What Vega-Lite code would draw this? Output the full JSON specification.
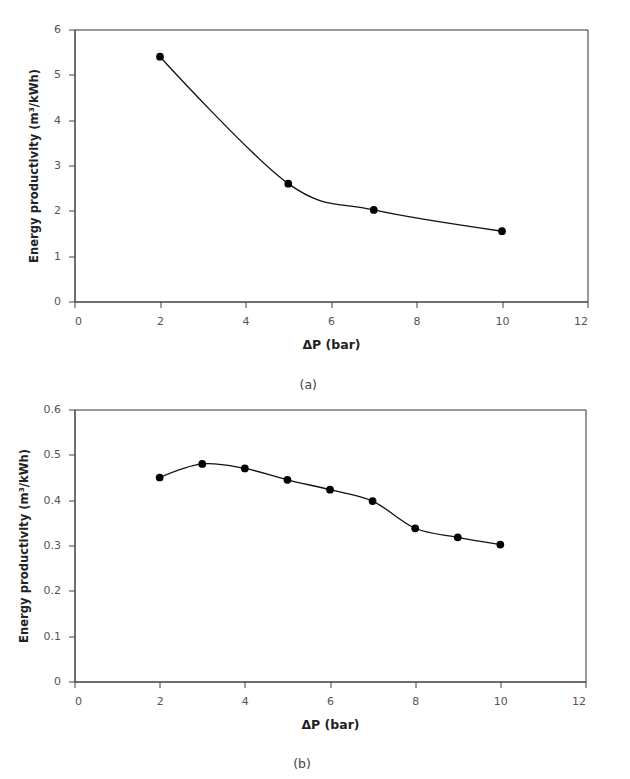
{
  "$schema": "https://vega.github.io/schema/vega-lite/v6.json",
  "background": "white",
  "padding": {"left": 17.5, "top": 22.5, "right": 10, "bottom": 5},
  "datasets": {
    "a": [
      {"dp": 2, "ep": 5.4},
      {"dp": 5, "ep": 2.6},
      {"dp": 7, "ep": 2.02},
      {"dp": 10, "ep": 1.55}
    ],
    "b": [
      {"dp": 2, "ep": 0.45},
      {"dp": 3, "ep": 0.48},
      {"dp": 4, "ep": 0.47},
      {"dp": 5, "ep": 0.445},
      {"dp": 6, "ep": 0.423},
      {"dp": 7, "ep": 0.398},
      {"dp": 8, "ep": 0.338},
      {"dp": 9, "ep": 0.318},
      {"dp": 10, "ep": 0.302}
    ]
  },
  "config": {
    "font": "DejaVu Sans",
    "view": {"stroke": "#333", "strokeWidth": 1},
    "axis": {
      "labelFont": "DejaVu Sans",
      "labelFontSize": 11,
      "labelColor": "#555",
      "titleFont": "DejaVu Sans",
      "titleFontWeight": "bold",
      "titleColor": "#222",
      "domainColor": "#444",
      "tickColor": "#444",
      "grid": false,
      "tickSize": 6
    },
    "axisX": {"labelPadding": 7.5, "titlePadding": 12, "titleFontSize": 12.5},
    "axisY": {"labelPadding": 8, "titlePadding": 14, "titleFontSize": 11.6, "minExtent": 0},
    "title": {"font": "DejaVu Sans", "fontSize": 12.5, "fontWeight": "normal", "color": "#444"}
  },
  "spacing": 11,
  "vconcat": [
    {
      "width": 513,
      "height": 272,
      "title": {"text": "(a)", "orient": "bottom", "anchor": "middle", "frame": "bounds", "offset": 28},
      "data": {"name": "a"},
      "encoding": {
        "x": {
          "field": "dp", "type": "quantitative",
          "scale": {"domain": [0, 12], "nice": false},
          "axis": {"values": [0, 2, 4, 6, 8, 10, 12], "title": "ΔP (bar)"}
        },
        "y": {
          "field": "ep", "type": "quantitative",
          "scale": {"domain": [0, 6], "nice": false},
          "axis": {"values": [0, 1, 2, 3, 4, 5, 6], "title": "Energy productivity (m³/kWh)"}
        }
      },
      "layer": [
        {"mark": {"type": "line", "interpolate": "cardinal", "color": "#111", "strokeWidth": 1.3}},
        {"mark": {"type": "point", "filled": true, "size": 60, "color": "#000", "opacity": 1}}
      ]
    },
    {
      "width": 511,
      "height": 272,
      "title": {"text": "(b)", "orient": "bottom", "anchor": "middle", "frame": "bounds", "offset": 27},
      "data": {"name": "b"},
      "encoding": {
        "x": {
          "field": "dp", "type": "quantitative",
          "scale": {"domain": [0, 12], "nice": false},
          "axis": {"values": [0, 2, 4, 6, 8, 10, 12], "title": "ΔP (bar)"}
        },
        "y": {
          "field": "ep", "type": "quantitative",
          "scale": {"domain": [0, 0.6], "nice": false},
          "axis": {"values": [0, 0.1, 0.2, 0.3, 0.4, 0.5, 0.6], "format": "~g", "title": "Energy productivity (m³/kWh)"}
        }
      },
      "layer": [
        {"mark": {"type": "line", "interpolate": "cardinal", "color": "#111", "strokeWidth": 1.3}},
        {"mark": {"type": "point", "filled": true, "size": 60, "color": "#000", "opacity": 1}}
      ]
    }
  ]
}
